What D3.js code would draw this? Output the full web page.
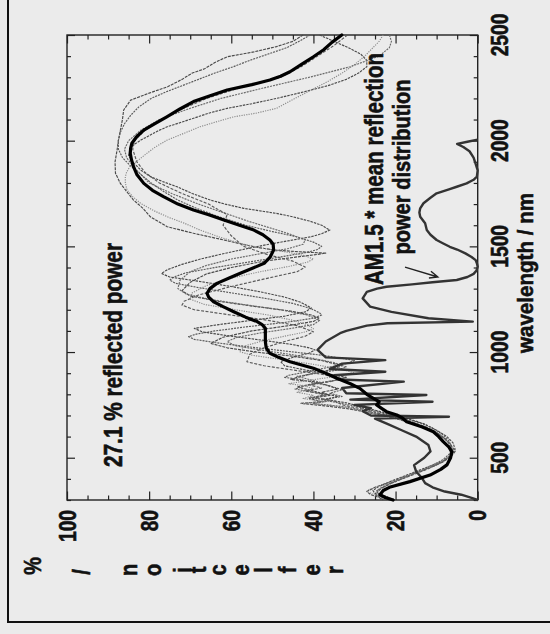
<!DOCTYPE html>
<html>
<head>
<meta charset="utf-8">
<script src="https://cdn.jsdelivr.net/npm/d3@7/dist/d3.min.js"></script>
<style>
  html, body { margin: 0; padding: 0; background: #ebebeb; }
  svg { display: block; }
  text { font-family: "Liberation Sans", Arial, sans-serif; font-weight: bold; fill: #111; stroke: #111; stroke-width: 0.6px; }
</style>
</head>
<body>
<svg id="chart" width="550" height="634"></svg>
<script>
// Axis ticks
const wavelengthTicks = [500, 1000, 1500, 2000, 2500];
const reflectionTicks = [0, 20, 40, 60, 80, 100];

// Mean reflection spectrum, [wavelength nm, reflection %]
const meanReflection = [
  [300,20.6],[312,22.5],[325,23.8],[345,23],[360,21.5],[387,16.5],[418,11.6],[445,9],[466,7.5],
  [500,6.6],[528,6.3],[550,7],[576,8.4],[600,9.5],[623,10.8],[645,13.5],[670,17.3],[690,18.5],
  [702,19.7],[718,22.2],[735,23.5],[750,24.6],[765,24],[781,25.4],[800,27],[828,28.7],[850,31],
  [876,34.3],[900,37],[923,40],[954,45.7],[975,48.5],[994,50.6],[1020,51.5],[1049,51.7],[1080,51.7],
  [1112,51.7],[1130,52.5],[1144,53.7],[1165,56.5],[1191,59.4],[1215,62],[1238,64.3],[1260,65.5],
  [1278,65.9],[1300,65.2],[1325,63.5],[1350,60.5],[1373,57.8],[1395,55],[1420,52],[1450,50.5],
  [1483,49.7],[1510,49.8],[1530,50.6],[1555,52.3],[1577,54.5],[1600,58],[1625,61.8],[1650,65.5],
  [1672,69.2],[1700,73],[1735,76.5],[1765,79.2],[1798,81.3],[1840,83],[1877,83.8],[1910,84.3],
  [1940,84.6],[1965,84.5],[1988,84.2],[2020,83],[2050,81.3],[2080,78.7],[2113,75.7],[2150,72.5],
  [2185,69.2],[2210,65.5],[2240,61],[2265,55],[2287,50.6],[2305,48],[2326,45.7],[2360,43],
  [2397,40],[2430,37.5],[2465,35.5],[2500,33.1]
];

// Individual sample spectra, [wavelength nm, reflection %]
const sample1 = [
  [2500,42.5],[2470,45],[2445,49],[2420,54.5],[2397,61],[2370,64],[2340,66.5],[2320,69.5],[2290,72],
  [2255,75.5],[2225,80],[2192,84.5],[2145,86.2],[2100,86.5],[2050,87],[2000,87.5],[1956,87.8],
  [1900,88.3],[1846,88.2],[1798,87],[1760,85.5],[1719,83.8],[1680,81.5],[1640,79.7],[1593,75.6],
  [1562,69.2],[1530,61.8],[1498,54.5],[1483,49.7],[1475,44],[1468,37],[1462,39],[1450,44],
  [1430,52],[1400,60],[1370,66],[1330,70],[1290,72],[1265,70],[1240,63],[1215,54],[1195,46],
  [1175,40.5],[1160,38.5],[1145,40],[1125,46],[1100,55],[1070,62],[1041,65],[1020,61],[1000,54],
  [980,45],[960,38],[935,33],[915,36],[895,41],[880,44],[870,45.5],[860,40],[845,37],[825,34],
  [810,38],[795,36],[780,41],[765,38],[757,43],[745,37],[730,31],[715,27],[700,23],[680,19],
  [660,15.5],[640,12.5],[615,10],[590,8],[560,6.5],[530,5.5],[505,6.5],[480,8.5],[455,11.5],
  [430,15],[405,18.5],[380,22],[360,25],[340,27],[325,26],[312,24],[300,23]
];
const sample2 = [
  [2500,40.8],[2470,43.5],[2440,46.5],[2410,51],[2380,55.5],[2350,59.5],[2320,64],[2290,68],
  [2260,72],[2230,76],[2200,79.5],[2160,82.5],[2120,84.5],[2080,86],[2040,87],[2000,87.5],
  [1960,87.5],[1920,86.5],[1880,84.5],[1840,82],[1800,79.5],[1760,76.5],[1719,73],[1680,68.5],
  [1640,63],[1600,56.5],[1570,50],[1545,44],[1520,40],[1500,38],[1485,39],[1470,42],[1450,48],
  [1425,56],[1400,64],[1375,71],[1355,74],[1340,75],[1325,73.5],[1305,68],[1280,60],[1255,52],
  [1230,45],[1205,40.5],[1185,38.5],[1175,38],[1160,40],[1140,47],[1120,56],[1100,64],[1085,68.5],
  [1073,70.4],[1060,69],[1045,64],[1025,56],[1005,47],[985,38],[970,33],[960,30],[945,32],
  [925,37],[905,42],[890,46],[880,47],[870,43],[855,40],[840,36],[822,33],[805,36],[790,33],
  [775,38],[760,34],[745,30],[725,26],[705,22],[685,18],[665,14],[640,11],[610,8.5],[580,7],
  [550,6.3],[520,6.8],[490,8.5],[460,11.5],[430,15],[400,18.5],[370,22],[345,24.5],[325,25],
  [310,23.5],[300,22]
];
const sample3 = [
  [2500,38.5],[2470,35],[2440,31.5],[2410,28.5],[2380,27],[2350,27],[2320,29],[2290,32],[2260,36.5],
  [2230,42.5],[2200,49],[2175,55],[2153,61],[2130,65.5],[2106,69.2],[2085,72.5],[2066,75.6],
  [2045,78],[2027,79.7],[2003,82],[1980,83.8],[1955,84.7],[1930,85],[1900,84],[1860,82],
  [1830,79.7],[1805,76.5],[1782,73.2],[1750,69.5],[1719,65.1],[1700,61.5],[1680,57],[1665,52],
  [1656,49],[1640,45],[1620,41],[1600,38],[1577,36],[1560,38],[1546,40.5],[1530,45],[1511,50.6],
  [1490,56],[1465,62],[1440,67.5],[1415,72],[1390,75.5],[1372,77],[1355,75],[1335,68],[1310,60],
  [1285,53],[1260,47],[1235,43],[1208,40.5],[1190,42],[1170,47],[1150,55],[1130,63],[1112,69],
  [1095,67],[1075,60],[1055,52],[1035,45],[1020,41],[1010,39.6],[995,41],[975,45],[955,48],
  [935,47],[915,42],[895,36],[880,32],[865,35],[850,40],[835,44],[820,41],[805,38],[790,34],
  [775,37],[760,32],[745,29],[725,25],[705,21],[685,17],[660,13],[630,10],[600,7.5],[570,6],
  [540,5.5],[510,6.5],[480,9],[450,13],[420,17],[390,21],[365,24],[345,25.5],[330,25],[315,23],
  [300,21.5]
];
const sample4 = [
  [2500,23],[2470,24],[2440,25.5],[2400,27.5],[2360,30],[2320,33],[2280,36.5],[2240,40.5],
  [2200,44.5],[2153,49],[2130,54],[2113,59.4],[2090,63.5],[2066,67.6],[2035,71.5],[2003,75.6],
  [1970,78.5],[1941,80.5],[1910,82.5],[1877,84.7],[1850,85.5],[1830,85.8],[1800,85.8],[1767,85.4],
  [1735,84],[1704,82.1],[1670,79],[1640,75.6],[1610,71.5],[1577,67.6],[1545,63],[1514,57.8],
  [1495,53.5],[1483,49.7],[1468,45],[1455,42],[1440,40],[1425,41.5],[1405,46],[1380,53],
  [1350,60],[1315,66],[1280,69.5],[1250,70],[1225,66.5],[1200,59],[1175,51],[1150,45],
  [1130,41.5],[1110,40],[1095,42],[1075,47],[1055,52],[1030,56.5],[1002,58],[985,55],[965,48],
  [945,41],[925,35],[910,31.5],[900,30],[888,33],[875,38],[860,43],[850,46],[840,42],[825,40],
  [810,44],[795,40],[780,42.5],[765,37],[757,43],[748,36],[730,30],[710,25],[690,20.5],
  [670,16.5],[645,13],[620,10],[590,8],[560,6.8],[530,6.3],[500,7.5],[475,9.5],[450,12.5],
  [420,16.5],[390,20.5],[365,24],[350,26.5],[340,27],[328,25.5],[315,23],[300,21]
];
const sample5 = [
  [2500,21.5],[2470,21],[2440,21.5],[2400,24],[2350,31],[2300,41],[2250,52],[2200,62.5],
  [2150,70.5],[2100,77.5],[2050,82],[2000,85],[1960,86],[1920,85.5],[1870,83.5],[1830,81.5],
  [1800,80],[1750,74.5],[1700,68],[1660,62],[1620,56],[1590,51],[1560,46],[1530,42],[1510,42.5],
  [1490,46],[1465,53],[1440,60],[1410,66],[1380,70],[1340,72.5],[1300,73],[1275,71],[1250,65.5],
  [1225,57],[1200,48],[1175,41.5],[1150,38.5],[1130,40],[1110,46],[1090,53],[1070,58.5],
  [1050,61],[1030,59],[1010,53],[990,46],[970,40],[950,35],[930,32],[915,34],[900,39],[885,44],
  [870,41],[855,38],[840,42],[825,44.5],[810,40],[795,37],[785,41],[770,36],[757,40],[740,32],
  [720,27],[700,22.5],[680,18.5],[655,14],[630,11],[600,8.5],[570,7],[540,6.3],[510,6.8],
  [480,8.5],[450,12],[420,16],[390,20],[365,23],[345,24.5],[330,24],[315,22],[300,20.5]
];
const sample6 = [
  [2500,31.7],[2450,35],[2400,39],[2350,43],[2300,48],[2250,58],[2200,66],[2150,72],[2100,77],
  [2050,81],[2000,83.5],[1960,84],[1900,83],[1850,81],[1800,77.5],[1750,72],[1700,65.5],
  [1650,61],[1600,62],[1550,60],[1500,57],[1460,51],[1430,45],[1402,42],[1380,44],[1350,51],
  [1310,60],[1270,68],[1240,71.5],[1222,72],[1200,69],[1175,60],[1150,51],[1125,44],[1096,40],
  [1075,42],[1050,47],[1020,52],[990,55.5],[954,56.2],[935,52],[915,45],[895,38],[875,33],
  [860,36],[845,41],[830,38],[815,42],[800,37],[785,40],[770,35],[750,33],[730,28],[710,24],
  [690,20],[670,16],[645,12.5],[620,10],[590,8],[560,6.5],[530,6],[500,7],[470,9.5],[440,13],
  [410,17],[380,21],[355,23.5],[335,24.5],[318,23],[300,20]
];

// AM1.5 spectrum weighted by the mean reflection, same % scale
const am15Power = [
  [300,0],[310,1.5],[325,4],[340,8],[360,11],[380,12.8],[405,13.6],[435,15],[465,15.5],[500,13],
  [530,11.5],[560,12],[600,15],[630,18.5],[660,22],[685,25],[694,7],[700,26],[720,28],[735,26],
  [750,30],[765,11],[775,31],[797,12.5],[805,32],[830,33],[860,18],[870,34],[890,35],[907,22.5],
  [920,36],[945,33],[962,22.5],[975,37],[1010,39],[1050,37],[1089,33.5],[1100,32],[1125,27],
  [1136,22],[1144,1.2],[1160,12],[1190,21],[1215,26.2],[1254,28],[1285,27],[1300,24.5],
  [1309,22.2],[1320,16],[1330,11],[1341,5.1],[1355,2.5],[1370,1],[1385,0.3],[1404,0],[1420,0.2],
  [1435,0.5],[1450,1.5],[1467,3],[1485,5],[1498,6.8],[1515,8.5],[1530,10],[1555,11.5],[1577,12.4],
  [1609,12.8],[1640,14],[1660,14.2],[1680,14],[1704,13.2],[1730,11.5],[1751,10],[1770,7],
  [1782,5.1],[1798,2.7],[1815,1],[1830,0.2],[1860,0],[1890,0.5],[1920,1],[1950,2],[1970,3.5],
  [1985,5],[1995,2.5],[2005,0]
];

// Annotation arrow pointing at the weighted curve, [wavelength nm, reflection %]
const arrowPath = [[1402, 17.7], [1355, 9.7]];

// Characters of the reflection axis title, laid out one by one
const yTitleChars = ["r","e","f","l","e","c","t","i","o","n","/","%"];

const svg = d3.select("#chart");

// Reflection runs horizontally (100 on the left), wavelength vertically (300 at the bottom)
const xR = d3.scaleLinear().domain([0, 100]).range([477.7, 67]);
const yL = d3.scaleLinear().domain([300, 2500]).range([500, 35]);

svg.append("rect").attr("width", 550).attr("height", 634).attr("fill", "#ebebeb");

// Outer frame
svg.append("path")
  .attr("d", "M8,0 V622 H550")
  .attr("fill", "none").attr("stroke", "#111").attr("stroke-width", 2);

// Minor and major ticks on all four sides, pointing inward
const rMinor = d3.range(0, 101, 5).filter(v => v % 20 !== 0);
const lMinor = d3.range(300, 2501, 100).filter(v => v % 500 !== 0);

function tickAxis(axisFn, scale, values, size, transform) {
  const g = svg.append("g")
    .attr("transform", transform)
    .call(axisFn(scale).tickValues(values).tickSize(size).tickFormat(""));
  g.select(".domain").remove();
  g.selectAll("line").attr("stroke", "#222").attr("stroke-width", 1.2);
}
tickAxis(d3.axisTop, xR, rMinor, 4.5, "translate(0,500)");
tickAxis(d3.axisTop, xR, reflectionTicks, 8.5, "translate(0,500)");
tickAxis(d3.axisBottom, xR, rMinor, 4.5, "translate(0,35)");
tickAxis(d3.axisBottom, xR, reflectionTicks, 8.5, "translate(0,35)");
tickAxis(d3.axisLeft, yL, lMinor, 4, "translate(477.7,0)");
tickAxis(d3.axisLeft, yL, wavelengthTicks, 8, "translate(477.7,0)");
tickAxis(d3.axisRight, yL, lMinor, 4, "translate(67,0)");
tickAxis(d3.axisRight, yL, wavelengthTicks, 8, "translate(67,0)");

// Plot box
svg.append("rect")
  .attr("x", xR(100)).attr("y", yL(2500))
  .attr("width", xR(0) - xR(100)).attr("height", yL(300) - yL(2500))
  .attr("fill", "none").attr("stroke", "#222").attr("stroke-width", 1.4);

const line = d3.line().x(d => xR(d[1])).y(d => yL(d[0])).curve(d3.curveLinear);

// Sample spectra
const samples = [
  { data: sample1, color: "#4a4a4a", dash: "3,1" },
  { data: sample2, color: "#5a5a5a", dash: "2,1" },
  { data: sample3, color: "#4a4a4a", dash: "2.5,1" },
  { data: sample4, color: "#8a8a8a", dash: "1.2,1.2" },
  { data: sample5, color: "#6a6a6a", dash: "2,1" },
  { data: sample6, color: "#5a5a5a", dash: "3,1.5" }
];
svg.append("g").selectAll("path").data(samples).join("path")
  .attr("d", d => line(d.data))
  .attr("fill", "none")
  .attr("stroke", d => d.color)
  .attr("stroke-width", 1.15)
  .attr("stroke-dasharray", d => d.dash)
  .attr("stroke-linejoin", "round");

// Weighted solar power curve
svg.append("path")
  .attr("d", line(am15Power))
  .attr("fill", "none").attr("stroke", "#333").attr("stroke-width", 2.4)
  .attr("stroke-linejoin", "round");

// Mean reflection
svg.append("path")
  .attr("d", line(meanReflection))
  .attr("fill", "none").attr("stroke", "#000").attr("stroke-width", 3.2)
  .attr("stroke-linejoin", "round").attr("stroke-linecap", "round");

// Arrow
const a0 = [xR(arrowPath[0][1]), yL(arrowPath[0][0])];
const a1 = [xR(arrowPath[1][1]), yL(arrowPath[1][0])];
const ang = Math.atan2(a1[1] - a0[1], a1[0] - a0[0]);
const head = 9, spread = 0.4;
const h1 = [a1[0] - head * Math.cos(ang - spread), a1[1] - head * Math.sin(ang - spread)];
const h2 = [a1[0] - head * Math.cos(ang + spread), a1[1] - head * Math.sin(ang + spread)];
svg.append("path")
  .attr("d", `M${a0[0]},${a0[1]} L${a1[0]},${a1[1]} M${h1[0]},${h1[1]} L${a1[0]},${a1[1]} L${h2[0]},${h2[1]}`)
  .attr("fill", "none").attr("stroke", "#222").attr("stroke-width", 1.4);

// Tick labels (rotated)
svg.append("g").selectAll("text").data(wavelengthTicks).join("text")
  .attr("transform", d => `translate(508,${yL(d)}) rotate(-90) scale(0.8,1)`)
  .attr("text-anchor", "middle")
  .attr("font-size", 24)
  .text(d => d);

svg.append("g").selectAll("text").data(reflectionTicks).join("text")
  .attr("transform", d => `translate(${xR(d) + 8.5},510) rotate(-90) scale(0.8,1)`)
  .attr("text-anchor", "end")
  .attr("font-size", 24)
  .text(d => d);

// Rotated labels
function rotLabel(str, x, y, size, len) {
  svg.append("text")
    .attr("transform", `translate(${x},${y}) rotate(-90)`)
    .attr("text-anchor", "middle")
    .attr("font-size", size)
    .attr("textLength", len)
    .attr("lengthAdjust", "spacingAndGlyphs")
    .text(str);
}
rotLabel("27.1 % reflected power", 122, 355, 25, 224);
rotLabel("AM1.5 * mean reflection", 383, 169, 25, 232);
rotLabel("power distribution", 410, 167, 23, 175);
rotLabel("wavelength / nm", 533, 273, 22, 160);

// Reflection axis title, one rotated character at a time
const charX = [335, 311.7, 287.5, 264, 240.7, 218.3, 198.3, 183, 152.7, 128.8, 81.7, 33];
const charY = [570, 570, 570, 570, 570, 570, 570, 570, 570, 570, 572, 566];
svg.append("g").selectAll("text").data(yTitleChars).join("text")
  .attr("transform", (d, i) => `translate(${charX[i]},${charY[i]}) rotate(-90) scale(0.83,1)`)
  .attr("text-anchor", "middle")
  .attr("dominant-baseline", "central")
  .attr("font-size", 24)
  .text(d => d);
</script>
</body>
</html>
